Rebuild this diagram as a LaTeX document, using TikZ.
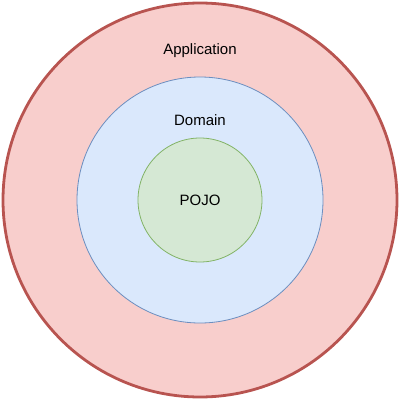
\documentclass[tikz,border=0pt]{standalone}
\usepackage{fontspec}
\setmainfont{Liberation Sans}
\usetikzlibrary{positioning}
\definecolor{appfill}{HTML}{F8CECC}
\definecolor{appline}{HTML}{B85450}
\definecolor{domfill}{HTML}{DAE8FC}
\definecolor{domline}{HTML}{6C8EBF}
\definecolor{pojofill}{HTML}{D5E8D4}
\definecolor{pojoline}{HTML}{82B366}
\begin{document}
\begin{tikzpicture}[
      x=1pt, y=-1pt,
      ring/.style={circle, inner sep=0pt},
      caption/.style={font=\fontsize{15}{18}\selectfont, anchor=base, inner sep=0pt}
      ]
      \useasboundingbox (0,0) rectangle (400,400);

      \node[ring, fill=appfill, draw=appline, line width=2.8pt, minimum size=394pt] (app) at (200,200) {};
      \node[ring, fill=domfill, draw=domline, line width=0.8pt, minimum size=246pt] (dom) at (200,200) {};
      \node[ring, fill=pojofill, draw=pojoline, line width=0.8pt, minimum size=124pt] (pojo) at (200,200) {};

      % Labels
      \node[caption] (applbl) at (200,54) {Application};
      \node[caption] (domlbl) at (200,125.5) {Domain};
      \node[caption] (pojolbl) at (200,205.5) {POJO};

\end{tikzpicture}
\end{document}
